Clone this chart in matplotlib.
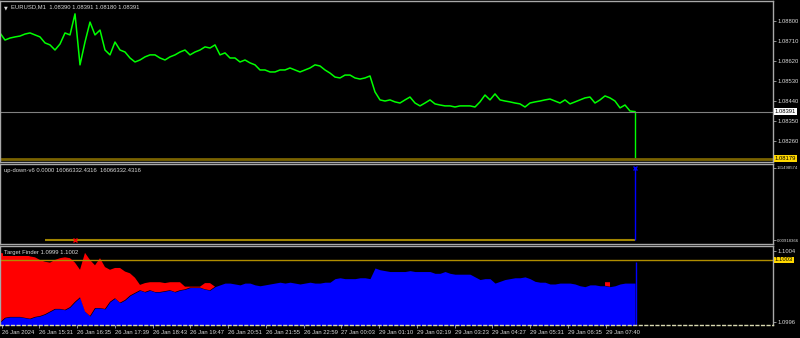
import numpy as np
import matplotlib
matplotlib.use("Agg")
from matplotlib import pyplot as plt

# readings taken every 5 chart columns, left to right
SAMPLE_STEP = 5

# EURUSD M1 closes, points above 1.08000
CLOSE_PTS = [
    746, 714, 723, 728, 732, 741, 746, 737, 728, 701, 692, 669, 696, 746, 737, 832, 602, 705, 795, 737,
    759, 669, 647, 705, 669, 660, 633, 615, 624, 638, 647, 647, 633, 624, 638, 647, 660, 669, 647, 660,
    669, 683, 678, 692, 647, 656, 633, 633, 615, 624, 611, 602, 579, 579, 570, 570, 579, 579, 588, 579,
    570, 579, 588, 602, 597, 579, 565, 547, 543, 556, 556, 543, 538, 543, 552, 480, 444, 439, 444, 435,
    430, 444, 457, 430, 417, 430, 444, 426, 421, 417, 417, 412, 417, 417, 417, 412, 435, 466, 444, 471,
    444, 439, 435, 430, 426, 412, 430, 435, 439, 444, 448, 439, 430, 444, 426, 435, 444, 453, 457, 430,
    444, 462, 453, 439, 408, 421, 394, 391,
]
LAST_LOW_PTS = 180
BID = 1.08391
HLINE_PRICE = 1.08179
PRICE_TICKS = [1.08800, 1.08710, 1.08620, 1.08530, 1.08440, 1.08350, 1.08260]

# up-down-v6
UPDOWN_FIRST = 9
UPDOWN_SIGNAL = 15
UPDOWN_LAST = 16066332.4316

# Target Finder histogram, points above 1.09900
BLUE_PTS = [
    60, 65, 66, 66, 66, 65, 64, 66, 67, 69, 72, 75, 75, 74, 77, 83, 88, 72, 67, 76,
    76, 75, 83, 87, 82, 85, 90, 93, 96, 94, 96, 94, 94, 95, 96, 94, 96, 97, 99, 99,
    99, 97, 96, 100, 102, 104, 104, 103, 102, 104, 104, 102, 101, 102, 103, 104, 105, 104, 105, 104,
    103, 104, 105, 104, 104, 105, 105, 109, 110, 109, 109, 109, 110, 110, 109, 121, 119, 118, 117, 117,
    117, 117, 118, 117, 117, 117, 117, 115, 115, 117, 115, 114, 114, 114, 114, 111, 108, 109, 109, 104,
    106, 108, 109, 110, 110, 111, 109, 106, 105, 105, 103, 103, 104, 104, 104, 103, 101, 100, 102, 102,
    101, 101, 100, 101, 103, 104, 104, 104,
]
RED_PTS = [
    138, 137, 138, 137, 136, 136, 134, 133, 130, 128, 127, 130, 132, 133, 132, 127, 119, 138, 130, 124,
    132, 122, 119, 121, 121, 117, 115, 110, 102, 104, 105, 105, 105, 104, 105, 105, 105, 100, 100, 100,
    100, 104, 104, 100,
] + [None] * 77 + [105, 105] + [None] * 5
LAST_BLUE_PTS = 128
TF_LEVEL = 1.1003
TF_TICKS = [1.1004, 1.0996]

TIME_LABELS = ["26 Jan 2024", "26 Jan 15:31", "26 Jan 16:35", "26 Jan 17:39", "26 Jan 18:43",
               "26 Jan 19:47", "26 Jan 20:51", "26 Jan 21:55", "26 Jan 22:59", "27 Jan 00:03",
               "29 Jan 01:10", "29 Jan 02:19", "29 Jan 03:23", "29 Jan 04:27", "29 Jan 05:31",
               "29 Jan 06:35", "29 Jan 07:40"]

W, H = 800, 338
FS = 4.2
TXT = "#d8d8d8"
FRAME = "#a8a8a8"
plt.rcParams["font.family"] = ["Liberation Sans", "DejaVu Sans"]

x = np.arange(len(CLOSE_PTS)) * SAMPLE_STEP
close = 1.08 + np.array(CLOSE_PTS) / 1e5
blue = 1.099 + np.array(BLUE_PTS) / 1e5
red = 1.099 + np.array(RED_PTS, dtype=float) / 1e5

fig = plt.figure(figsize=(W / 100, H / 100), dpi=100, facecolor="black")


def panel(top, bottom):
    ax = fig.add_axes([0, 1 - bottom / H, 773 / W, (bottom - top) / H])
    ax.set_facecolor("black")
    for s in ax.spines.values():
        s.set_color(FRAME)
        s.set_linewidth(1)
    ax.set_xlim(0, 773)
    ax.yaxis.tick_right()
    ax.tick_params(axis="y", colors=FRAME, labelcolor=TXT, labelsize=FS, length=2, width=0.6, pad=1)
    ax.tick_params(axis="x", bottom=False, labelbottom=False)
    return ax


def price_box(ax, y, label, color):
    ax.text(1.002, y, label, transform=ax.get_yaxis_transform(), fontsize=FS, color="black",
            va="center", ha="left", clip_on=False,
            bbox=dict(boxstyle="square,pad=0.15", facecolor=color, edgecolor="none"))


# main price window
ax1 = panel(1, 162)
ax1.set_ylim(1.08164, 1.08890)
ax1.plot(x, close, color="#00ff00", lw=1.1)
ax1.vlines(x[-1], 1.08 + LAST_LOW_PTS / 1e5, close[-1], color="#00ff00", lw=1)
ax1.axhline(BID, color="#808080", lw=0.8)
ax1.axhline(HLINE_PRICE, color="#7a6300", lw=2)
ax1.set_yticks(PRICE_TICKS)
ax1.set_yticklabels([f"{t:.5f}" for t in PRICE_TICKS])
price_box(ax1, BID, f"{BID:.5f}", "white")
price_box(ax1, HLINE_PRICE, f"{HLINE_PRICE:.5f}", "#ffd700")
ax1.text(4, 0.975, "\u25bc", transform=ax1.get_xaxis_transform(), fontsize=3.5, color=TXT,
         family="DejaVu Sans", va="top")
ax1.text(11, 0.98, "EURUSD,M1  1.08390 1.08391 1.08180 1.08391", transform=ax1.get_xaxis_transform(),
         fontsize=FS, color=TXT, va="top")

# up-down-v6 window
ax2 = panel(164, 244)
ax2.set_ylim(-892574, 16958906)
ax2.hlines(0, x[UPDOWN_FIRST], x[-1], color="#a08400", lw=1.5)
ax2.plot(x[UPDOWN_SIGNAL], 0, marker="x", color="red", ms=3, mew=1)
ax2.vlines(x[-1], 0, UPDOWN_LAST, color="blue", lw=1)
ax2.plot(x[-1], UPDOWN_LAST, marker="x", color="blue", ms=3, mew=1)
ax2.set_yticks([UPDOWN_LAST, 0])
ax2.set_yticklabels(["131498574", "0.00918366"])
ax2.tick_params(axis="y", labelsize=3.1, pad=0.5)
ax2.text(4, 0.95, "up-down-v6 0.0000 16066332.4316  16066332.4316", transform=ax2.get_xaxis_transform(),
         fontsize=FS, color=TXT, va="top")

# Target Finder window
ax3 = panel(246, 325)
ax3.set_ylim(1.099569, 1.100457)
ax3.fill_between(x, 1.0995, blue, color="blue", lw=0)
ax3.fill_between(x, blue, red, where=~np.isnan(red), color="red", lw=0)
ax3.vlines(x[-1] + 1, 1.0995, 1.099 + LAST_BLUE_PTS / 1e5, color="blue", lw=1)
ax3.axhline(TF_LEVEL, color="#b08e00", lw=1)
ax3.set_yticks(TF_TICKS)
ax3.set_yticklabels([f"{t:.4f}" for t in TF_TICKS])
price_box(ax3, TF_LEVEL, f"{TF_LEVEL:.4f}", "#ffd700")
ax3.text(4, 0.95, "Target Finder 1.0999 1.1002", transform=ax3.get_xaxis_transform(),
         fontsize=FS, color=TXT, va="top",
         bbox=dict(boxstyle="square,pad=0.1", facecolor="black", edgecolor="none"))
ax3.spines["bottom"].set_linestyle((0, (2, 2)))
ax3.spines["bottom"].set_color("#d8d8b0")

tick_x = [2] + [39.4 + 37.75 * k for k in range(len(TIME_LABELS) - 1)]
ax3.set_xticks(tick_x)
ax3.set_xticklabels(TIME_LABELS)
ax3.tick_params(axis="x", bottom=True, labelbottom=True, colors=FRAME, labelcolor=TXT,
                labelsize=FS, length=2.5, width=0.6, pad=1)
for lbl in ax3.get_xticklabels():
    lbl.set_ha("left")

fig.savefig("out.png", dpi=100, facecolor="black")
